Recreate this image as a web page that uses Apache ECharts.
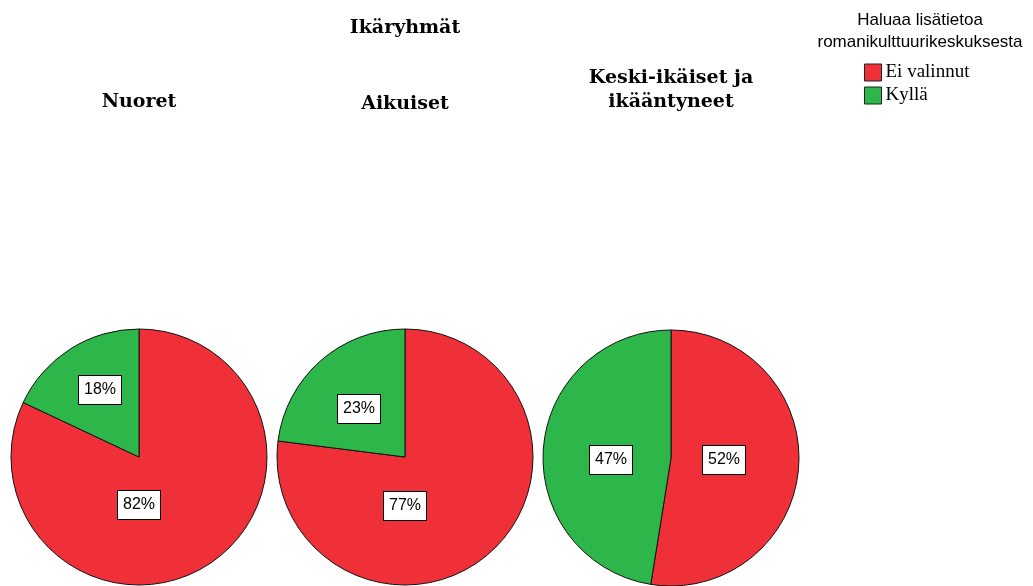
<!DOCTYPE html>
<html>
<head>
<meta charset="utf-8">
<script src="https://cdn.jsdelivr.net/npm/echarts@6/dist/echarts.min.js"></script>
<style>
  html, body { margin: 0; padding: 0; background: #fff; }
  #chart { width: 1033px; height: 586px; }
</style>
</head>
<body>
<div id="chart"></div>
<script>
// data
const categories = ['Ei valinnut', 'Kyllä'];
const groups = ['Nuoret', 'Aikuiset', 'Keski-ikäiset ja\nikääntyneet'];
const nuoret = [82, 18];
const aikuiset = [77, 23];
const keskiIkaiset = [52, 47];

const groupTitle = 'Ikäryhmät';
const legendTitle = 'Haluaa lisätietoa\nromanikulttuurikeskuksesta';

// layout
const RED = '#ef3039';
const GREEN = '#2db74a';
const RADIUS = 128;
const centers = [[139, 457], [405, 457], [671, 458]];
// where SPSS put the % boxes, relative to each pie centre
const labelSpots = [
  [[0, 48], [-39, -67]],
  [[0, 49], [-46, -48]],
  [[53, 2], [-60, 2]]
];

const serif = '"DejaVu Serif", serif';
const sans = '"Liberation Sans", Arial, sans-serif';

const chart = echarts.init(document.getElementById('chart'));

function pieSeries(values, i) {
  return {
    type: 'pie',
    name: groups[i],
    center: centers[i],
    radius: RADIUS,
    startAngle: 90,
    clockwise: true,
    silent: true,
    itemStyle: { borderColor: '#111', borderWidth: 1 },
    label: {
      show: true,
      position: 'inside',
      formatter: '{c}%',
      color: '#000',
      fontFamily: sans,
      fontSize: 16,
      backgroundColor: '#fff',
      borderColor: '#000',
      borderWidth: 1,
      padding: [7, 5, 5, 5]
    },
    labelLine: { show: false },
    labelLayout: params => {
      const o = labelSpots[i][params.dataIndex];
      return { x: centers[i][0] + o[0], y: centers[i][1] + o[1] };
    },
    emphasis: { disabled: true },
    data: values.map((v, k) => ({ name: categories[k], value: v }))
  };
}

const titleBase = {
  textAlign: 'center',
  padding: 0,
  textStyle: { fontFamily: serif, fontSize: 19, fontWeight: 'bold', color: '#000', lineHeight: 24 }
};

chart.setOption({
  animation: false,
  color: [RED, GREEN],
  title: [
    Object.assign({ text: groupTitle, left: 405, top: 16 }, titleBase),
    Object.assign({ text: groups[0], left: centers[0][0], top: 90 }, titleBase),
    Object.assign({ text: groups[1], left: centers[1][0], top: 92 }, titleBase),
    Object.assign({ text: groups[2], left: centers[2][0], top: 66 }, titleBase),
    {
      text: legendTitle,
      left: 920,
      top: 9,
      padding: 0,
      textAlign: 'center',
      textStyle: { fontFamily: sans, fontSize: 17, fontWeight: 'normal', color: '#000', lineHeight: 22 }
    }
  ],
  legend: {
    orient: 'vertical',
    left: 864,
    top: 63,
    padding: 0,
    itemWidth: 17,
    itemHeight: 17,
    itemGap: 4,
    icon: 'rect',
    selectedMode: false,
    itemStyle: { borderColor: '#222', borderWidth: 1 },
    textStyle: { fontFamily: '"Liberation Serif", serif', fontSize: 19, color: '#000', padding: [0, 0, 0, -1] },
    data: categories
  },
  series: [nuoret, aikuiset, keskiIkaiset].map(pieSeries)
});
</script>
</body>
</html>
